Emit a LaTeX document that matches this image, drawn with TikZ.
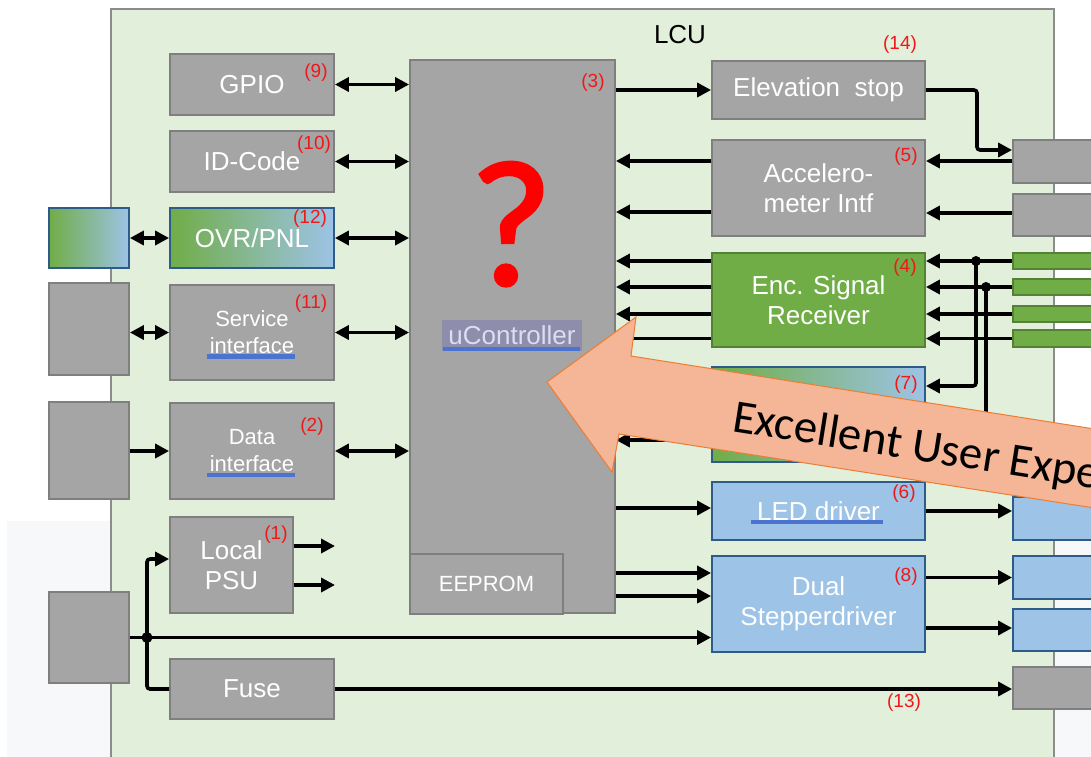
\documentclass[tikz,border=0pt]{standalone}
\usepackage{fontspec}
\setmainfont{Liberation Sans}
\newfontfamily\carlito{Carlito}
\newfontfamily\qmfont[FakeBold=1.6]{Carlito}
\usetikzlibrary{arrows.meta,calc}
\definecolor{lcufill}{HTML}{E2EFDA}
\definecolor{lcuborder}{HTML}{8C8C8C}
\definecolor{boxgray}{HTML}{A5A5A5}
\definecolor{boxborder}{HTML}{7F7F7F}
\definecolor{encgreen}{HTML}{70AD47}
\definecolor{encborder}{HTML}{548235}
\definecolor{ledblue}{HTML}{9DC3E6}
\definecolor{midblue}{HTML}{80A8C8}
\definecolor{blueborder}{HTML}{2E5C8A}
\definecolor{lblred}{HTML}{F01818}
\definecolor{hlfill}{HTML}{8E8EAC}
\definecolor{hltext}{HTML}{DCDCF2}
\definecolor{ulblue}{HTML}{4A74D0}
\definecolor{arrowfill}{HTML}{F5B597}
\definecolor{arroworange}{HTML}{ED7D31}
\definecolor{paleback}{HTML}{F7F8FA}
\begin{document}
\begin{tikzpicture}[x=1pt,y=-1pt,
  box/.style={draw=boxborder, line width=1.8pt, inner sep=0pt, align=center, text=white, font=\fontsize{26}{30}\selectfont},
  gbox/.style={box, fill=boxgray},
  grbox/.style={box, fill=encgreen, draw=encborder},
  blbox/.style={box, fill=ledblue, draw=blueborder},
  gradbox/.style={box, draw=blueborder, left color=encgreen, middle color=midblue, right color=ledblue},
  lbl/.style={text=lblred, font=\fontsize{19}{19}\selectfont, inner sep=0pt},
  conn/.style={line width=3.6pt},
  arr/.style={conn, -{Triangle[length=14pt,width=14pt]}},
  darr/.style={conn, {Triangle[length=14pt,width=14pt]}-{Triangle[length=14pt,width=14pt]}},
  ul/.style={fill=ulblue},
]
\useasboundingbox (0,0) rectangle (1091,756);
\clip (0,0) rectangle (1091,756);
\fill[white] (0,0) rectangle (1091,756);
\fill[paleback] (7,521) rectangle (111,760);
\fill[paleback] (1054,540) rectangle (1095,760);

% LCU frame
\draw[fill=lcufill, draw=lcuborder, line width=2pt] (111,9) rectangle (1054,770);
\node[font=\fontsize{26}{30}\selectfont, inner sep=0pt] (lcu) at (680,35) {LCU};

% left column
\node[gbox, minimum width=164pt, minimum height=61pt] (gpio) at (252,84.5) {GPIO};
\node[gbox, minimum width=164pt, minimum height=61pt] (idc) at (252,161.5) {ID-Code};
\node[gradbox, minimum width=164pt, minimum height=60pt] (ovr) at (252,238) {OVR/PNL};
\node[gbox, minimum width=164pt, minimum height=95pt, font=\fontsize{22}{27}\selectfont] (svc) at (252,332.5) {Service\\interface};
\node[gbox, minimum width=164pt, minimum height=96pt, font=\fontsize{22}{27}\selectfont] (data) at (252,451) {Data\\interface};
\node[gbox, minimum width=123pt, minimum height=96pt] (psu) at (231.5,565) {Local\\PSU};
\node[gbox, minimum width=164pt, minimum height=60pt] (fuse) at (252,689) {Fuse};

% far left boxes
\node[gradbox, minimum width=80pt, minimum height=60pt] (lg) at (89,238) {};
\node[gbox, minimum width=80pt, minimum height=92pt] (lb1) at (89,329) {};
\node[gbox, minimum width=80pt, minimum height=97pt] (lb2) at (89,450.5) {};
\node[gbox, minimum width=80pt, minimum height=91pt] (lb3) at (89,637.5) {};

% controller
\node[gbox, minimum width=205pt, minimum height=553pt] (uc) at (512.5,336.5) {};
\node[gbox, minimum width=153pt, minimum height=60pt, font=\fontsize{22}{26}\selectfont] (eep) at (486.5,584) {EEPROM};
\node[text=red, font=\qmfont\fontsize{180}{180}\selectfont, inner sep=0pt, anchor=base] (qm) at (511,285) {?};
\node[fill=hlfill, text=hltext, inner sep=0pt, minimum width=140pt, minimum height=31pt, font=\fontsize{26}{30}\selectfont] (uclbl) at (512,335.5) {uController};
\fill[ul] ([xshift=1pt]uclbl.south west) rectangle ([xshift=-2pt,yshift=4.5pt]uclbl.south east);

% right-middle column
\node[gbox, minimum width=213pt, minimum height=58pt] (elev) at (818.5,90) {Elevation\ \ stop};
\node[gbox, minimum width=213pt, minimum height=96pt] (acc) at (818.5,188) {Accelero-\\meter Intf};
\node[grbox, minimum width=213pt, minimum height=94pt] (enc) at (818.5,300) {Enc. Signal\\Receiver};
\node[gradbox, minimum width=213pt, minimum height=95pt] (b7) at (818.5,414.5) {};
\node[blbox, minimum width=213pt, minimum height=58pt] (led) at (818.5,511) {LED driver};
\node[blbox, minimum width=213pt, minimum height=96pt] (dual) at (818.5,604) {Dual\\Stepperdriver};

% far right boxes
\node[gbox, minimum width=87pt, minimum height=43pt] (rb1) at (1056.5,161.5) {};
\node[gbox, minimum width=87pt, minimum height=42pt] (rb2) at (1056.5,215) {};
\node[grbox, minimum width=87pt, minimum height=16pt] (gs1) at (1056.5,261) {};
\node[grbox, minimum width=87pt, minimum height=16pt] (gs2) at (1056.5,287) {};
\node[grbox, minimum width=87pt, minimum height=16pt] (gs3) at (1056.5,314) {};
\node[grbox, minimum width=87pt, minimum height=17pt] (gs4) at (1056.5,338.5) {};
\node[blbox, minimum width=87pt, minimum height=43pt] (bb1) at (1056.5,518.5) {};
\node[blbox, minimum width=87pt, minimum height=43pt] (bb2) at (1056.5,577.5) {};
\node[blbox, minimum width=87pt, minimum height=42pt] (bb3) at (1056.5,630) {};
\node[gbox, minimum width=87pt, minimum height=42pt] (rb3) at (1056.5,688) {};

% underlines
\fill[ul] (207,354) rectangle (295,359);
\fill[ul] (207,472.5) rectangle (295,477);
\fill[ul] (751,519.5) rectangle (883,524);

% red labels
\node[lbl] (l9) at (316,73) {(9)};
\node[lbl] (l10) at (314,145) {(10)};
\node[lbl] (l12) at (310,219) {(12)};
\node[lbl] (l11) at (311,304) {(11)};
\node[lbl] (l2) at (312,427) {(2)};
\node[lbl] (l1) at (276,535) {(1)};
\node[lbl] (l3) at (593,83) {(3)};
\node[lbl] (l14) at (900,45) {(14)};
\node[lbl] (l5) at (906,157) {(5)};
\node[lbl] (l4) at (905,268) {(4)};
\node[lbl] (l7) at (906,385) {(7)};
\node[lbl] (l6) at (904,494) {(6)};
\node[lbl] (l8) at (906,577) {(8)};
\node[lbl] (l13) at (904,703) {(13)};

% junction coordinates
\coordinate (j1) at (976,261);
\coordinate (j2) at (986,287);
\coordinate (j3) at (147,637.5);
\coordinate (p1) at (335,546);
\coordinate (p2) at (335,585);

% left side connectors
\draw[darr] (gpio.east) -- (uc.west |- gpio.east);
\draw[darr] (idc.east) -- (uc.west |- idc.east);
\draw[darr] (ovr.east) -- (uc.west |- ovr.east);
\draw[darr] (svc.east) -- (uc.west |- svc.east);
\draw[darr] (data.east) -- (uc.west |- data.east);
\draw[darr] (lg.east) -- (ovr.west);
\draw[darr] (lb1.east |- svc.west) -- (svc.west);
\draw[arr] (lb2.east |- data.west) -- (data.west);
\draw[arr] (psu.east |- p1) -- (p1);
\draw[arr] (psu.east |- p2) -- (p2);
\draw[conn] (lb3.east) -- (j3);
\draw[arr] (j3) -- (dual.west |- j3);
\draw[arr, rounded corners=3pt] (j3) |- (psu.west |- 0,559);
\draw[conn, rounded corners=3pt] (j3) |- (fuse.west);
\draw[arr] (fuse.east) -- (rb3.west |- fuse.east);
\fill (j3) circle (5.5pt);

% right side connectors
\draw[arr] (uc.east |- elev.west) -- (elev.west);
\draw[arr, rounded corners=3pt] (elev.east) -- (977,90) |- (rb1.west |- 0,150);
\draw[arr] (rb1.west |- 0,161) -- (acc.east |- 0,161);
\draw[arr] (rb2.west |- 0,213) -- (acc.east |- 0,213);
\draw[arr] (acc.west |- 0,161) -- (uc.east |- 0,161);
\draw[arr] (acc.west |- 0,212) -- (uc.east |- 0,212);
\draw[arr] (gs1.west) -- (enc.east |- gs1.west);
\draw[arr] (gs2.west) -- (enc.east |- gs2.west);
\draw[arr] (gs3.west) -- (enc.east |- gs3.west);
\draw[arr] (gs4.west) -- (enc.east |- gs4.west);
\draw[arr] (enc.west |- gs1.west) -- (uc.east |- gs1.west);
\draw[arr] (enc.west |- gs2.west) -- (uc.east |- gs2.west);
\draw[arr] (enc.west |- gs3.west) -- (uc.east |- gs3.west);
\draw[arr] (enc.west |- gs4.west) -- (uc.east |- gs4.west);
\draw[arr, rounded corners=3pt] (j1) |- (b7.east |- 0,386);
\draw[arr, rounded corners=3pt] (j2) |- (b7.east |- 0,445);
\fill (j1) circle (5pt);
\fill (j2) circle (5pt);
\draw[arr] (b7.west |- 0,440) -- (uc.east |- 0,440);
\draw[arr] (uc.east |- 0,508) -- (led.west |- 0,508);
\draw[arr] (led.east |- 0,511) -- (bb1.west |- 0,511);
\draw[arr] (uc.east |- 0,573) -- (dual.west |- 0,573);
\draw[arr] (uc.east |- 0,596) -- (dual.west |- 0,596);
\draw[arr] (dual.east |- bb2.west) -- (bb2.west);
\draw[arr] (dual.east |- 0,628) -- (bb3.west |- 0,628);

% big arrow
\draw[fill=arrowfill, draw=arroworange, line width=1pt, line join=miter]
  (547,382) -- (636,317) -- (631,356) -- (1120,433) -- (1120,512) -- (619,434) -- (612,472) -- cycle;
\node[font=\carlito\fontsize{47}{47}\selectfont, anchor=base west, rotate=-9, inner sep=0pt] (uxt) at (731,431) {Excellent User Experience};
\end{tikzpicture}
\end{document}
